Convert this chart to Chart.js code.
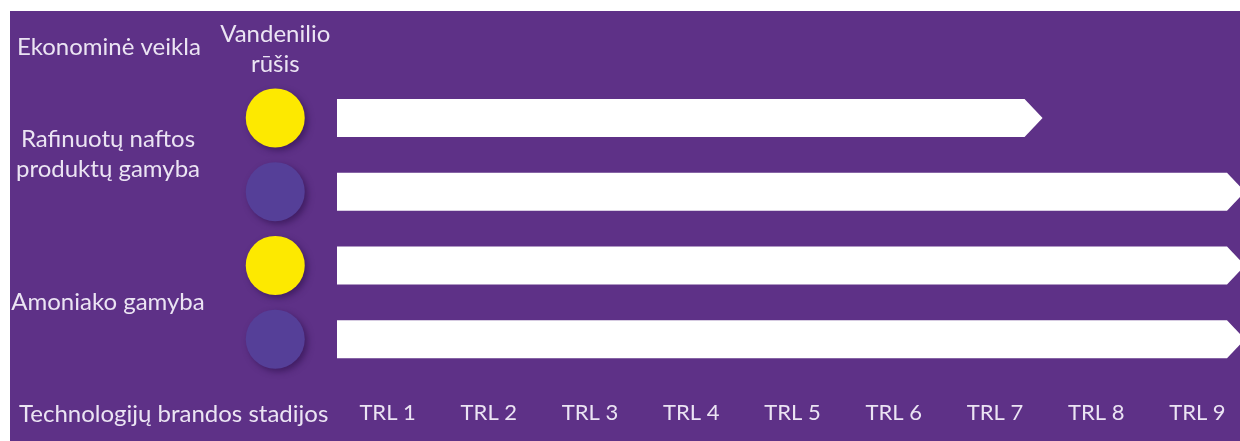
<!DOCTYPE html>
<html><head><meta charset="utf-8">
<script src="https://cdn.jsdelivr.net/npm/chart.js@4/dist/chart.umd.min.js"></script>
<style>
html,body{margin:0;padding:0;background:#fff;overflow:hidden;width:1240px;height:441px;}
#wrap{position:absolute;left:10px;top:11px;width:1240px;height:430px;background:#5e3187;}
canvas{display:block;}
</style></head><body>
<div id="wrap"><canvas id="c" width="1240" height="430"></canvas></div>
<script>
// ---- data ----
const activityLabels = [['Rafinuotų naftos', 'produktų gamyba'], ['Amoniako gamyba']];
const rowKeys = ['Rafinuotų naftos produktų gamyba 1', 'Rafinuotų naftos produktų gamyba 2', 'Amoniako gamyba 1', 'Amoniako gamyba 2'];
const trlLabels = ['TRL 1', 'TRL 2', 'TRL 3', 'TRL 4', 'TRL 5', 'TRL 6', 'TRL 7', 'TRL 8', 'TRL 9'];
const trlReached = [7, 9, 9, 9];
const headerActivity = 'Ekonominė veikla';
const headerHydrogen = ['Vandenilio', 'rūšis'];
const xAxisTitle = 'Technologijų brandos stadijos';

// ---- style ----
const TEXT = '#ebe4f3';
const FONT_FAMILY = 'Lato';
const FONT_SIZE = 24;
const TICK_SIZE = 22;
const CIRCLE_COLORS = ['#fde900', '#553f98', '#fde900', '#553f98'];
const CIRCLE_X = -0.61;       // column of hydrogen-type markers, left of TRL 1
const AREA_LEFT = 327;
const GROUP_CENTER = 98;

const mctx = document.createElement('canvas').getContext('2d');
mctx.font = FONT_SIZE + 'px ' + FONT_FAMILY;
let widest = 0;
activityLabels.forEach(l => l.forEach(s => { widest = Math.max(widest, mctx.measureText(s).width); }));
const groupPadding = AREA_LEFT - GROUP_CENTER - widest / 2;

const arrowBars = {
  id: 'arrowBars',
  beforeDatasetDraw(chart, args) {
    if (chart.data.datasets[args.index].type !== 'bar') return;
    const ctx = chart.ctx;
    ctx.save();
    ctx.fillStyle = '#ffffff';
    args.meta.data.forEach(el => {
      const p = el.getProps(['x', 'y', 'base', 'height'], true);
      const h = p.height / 2;
      const tip = p.x - 3;
      const sh = tip - 18;
      ctx.beginPath();
      ctx.moveTo(p.base, p.y - h);
      ctx.lineTo(sh, p.y - h);
      ctx.lineTo(tip, p.y);
      ctx.lineTo(sh, p.y + h);
      ctx.lineTo(p.base, p.y + h);
      ctx.closePath();
      ctx.fill();
    });
    ctx.restore();
    return false;
  }
};

const circles = {
  id: 'circles',
  beforeDatasetDraw(chart, args) {
    if (chart.data.datasets[args.index].type !== 'scatter') return;
    const ctx = chart.ctx;
    const full = { left: 0, top: 0, right: chart.width, bottom: chart.height };
    ctx.save();
    ctx.shadowColor = 'rgba(40,12,70,0.55)';
    ctx.shadowBlur = 6;
    ctx.shadowOffsetX = 3;
    ctx.shadowOffsetY = 3;
    args.meta.data.forEach(el => el.draw(ctx, full));
    ctx.restore();
    return false;
  }
};

const headers = {
  id: 'headers',
  afterDraw(chart) {
    const ctx = chart.ctx;
    ctx.save();
    ctx.fillStyle = TEXT;
    ctx.font = FONT_SIZE + 'px ' + FONT_FAMILY;
    ctx.textBaseline = 'alphabetic';
    ctx.textAlign = 'left';
    ctx.fillText(headerActivity, 7, 44);
    ctx.fillText(xAxisTitle, 9, 411);
    ctx.textAlign = 'center';
    const cx = chart.scales.x.getPixelForValue(CIRCLE_X);
    ctx.fillText(headerHydrogen[0], cx, 31);
    ctx.fillText(headerHydrogen[1], cx, 61);
    ctx.restore();
  }
};

new Chart(document.getElementById('c'), {
  data: {
    datasets: [
      {
        type: 'bar',
        data: trlReached,
        xAxisID: 'x',
        yAxisID: 'y',
        backgroundColor: '#ffffff',
        borderWidth: 0,
        barThickness: 38
      },
      {
        type: 'scatter',
        data: rowKeys.map(k => ({ x: CIRCLE_X, y: k })),
        xAxisID: 'x',
        yAxisID: 'y',
        pointBackgroundColor: CIRCLE_COLORS,
        pointBorderWidth: 0,
        pointRadius: 29.5,
        pointHoverRadius: 29.5,
        showLine: false,
        clip: false
      }
    ]
  },
  options: {
    indexAxis: 'y',
    responsive: false,
    animation: false,
    events: [],
    layout: { autoPadding: false, padding: { top: 70, right: 2, left: 0, bottom: 0 } },
    plugins: { legend: { display: false }, tooltip: { enabled: false } },
    scales: {
      x: { type: 'linear', min: 0, max: 9, display: false },
      xc: {
        type: 'category', labels: trlLabels, position: 'bottom', offset: true,
        grid: { display: false, drawTicks: false }, border: { display: false },
        ticks: { color: TEXT, font: { family: FONT_FAMILY, size: TICK_SIZE }, padding: 24, maxRotation: 0, autoSkip: false },
        afterFit(s) { s.height = 65; s.paddingLeft = 0; s.paddingRight = 0; }
      },
      y: { type: 'category', labels: rowKeys, offset: true, display: false },
      yg: {
        type: 'category', labels: activityLabels, position: 'left', offset: true,
        grid: { display: false, drawTicks: false }, border: { display: false },
        ticks: { color: TEXT, font: { family: FONT_FAMILY, size: FONT_SIZE, lineHeight: 1.25 }, padding: groupPadding, crossAlign: 'center', autoSkip: false },
        afterFit(s) { s.width = AREA_LEFT; s.paddingTop = 0; s.paddingBottom = 0; }
      }
    }
  },
  plugins: [arrowBars, circles, headers]
});
</script>
</body></html>
